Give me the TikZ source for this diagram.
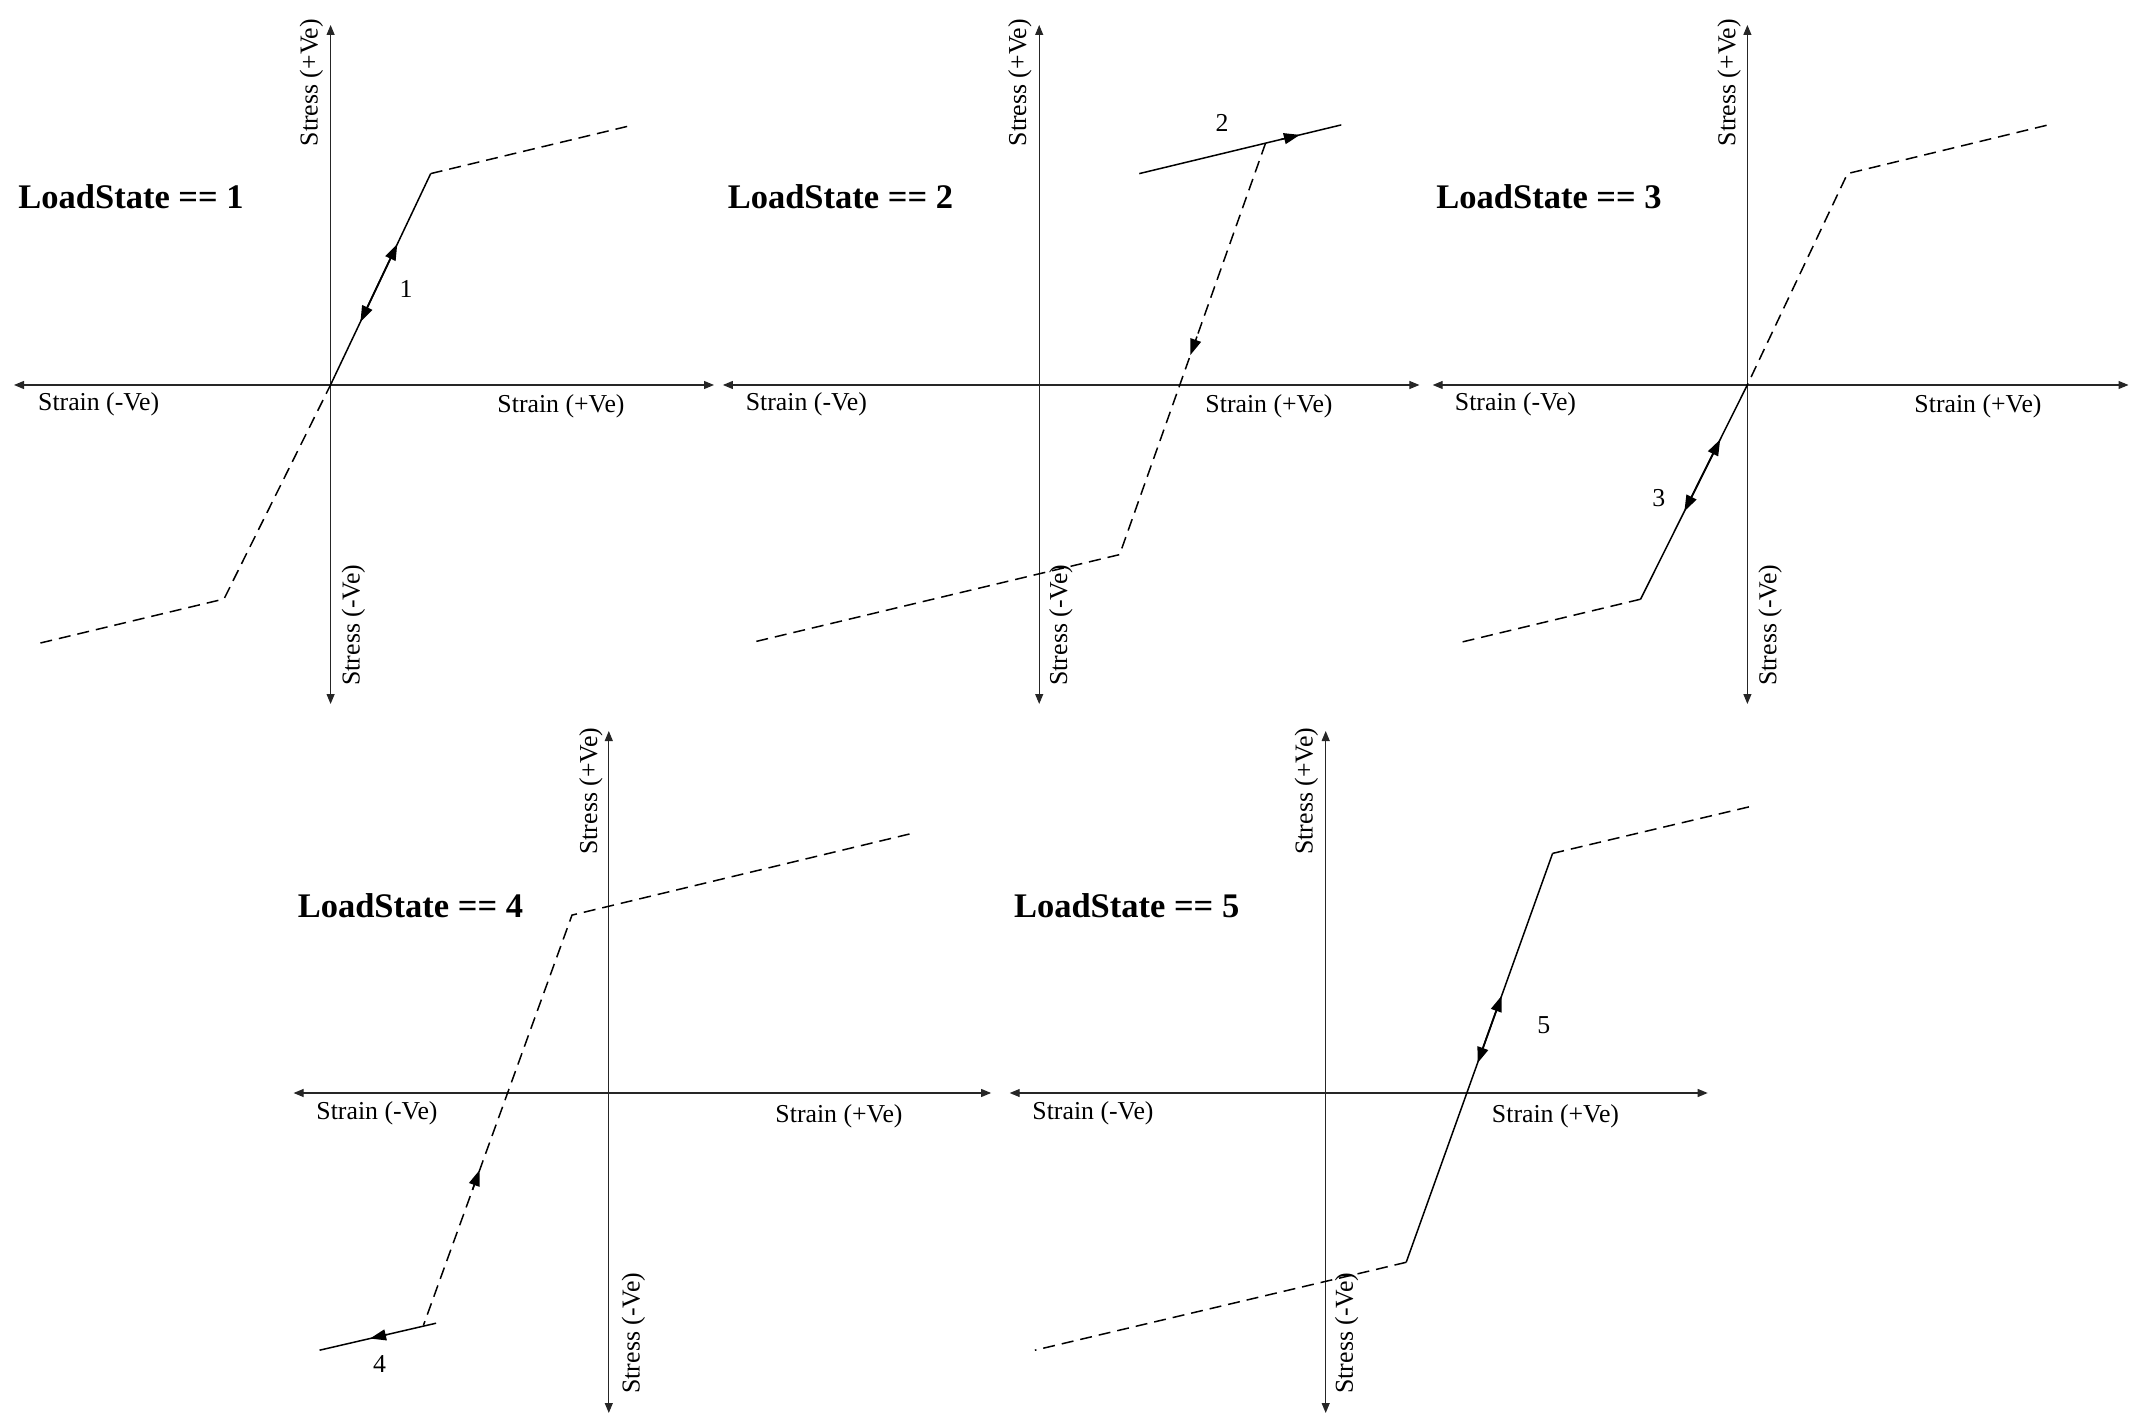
\documentclass[tikz,border=0pt]{standalone}
\usepackage{fontspec}
\setmainfont{Liberation Serif}
\usetikzlibrary{arrows.meta,calc}
\begin{document}
\begin{tikzpicture}[x=0.5pt,y=-0.5pt,
 axis/.style={line width=0.55pt,black!85,{Triangle[length=5pt,width=4pt]}-{Triangle[length=5pt,width=4pt]}},
 curve/.style={line width=0.75pt},
 dashcurve/.style={line width=0.75pt,dash pattern=on 6pt off 3.5pt},
 midtip/.style={line width=0.75pt,solid,-{Triangle[length=8pt,width=5.5pt]}},
 bothtip/.style={line width=0.9pt,{Triangle[length=8pt,width=5.5pt]}-{Triangle[length=8pt,width=5.5pt]}},
 lbl/.style={font=\fontsize{12.9pt}{15pt}\selectfont,inner sep=0pt},
 vlbl/.style={lbl,rotate=90},
 paneltitle/.style={font=\fontsize{17.25pt}{20pt}\selectfont\bfseries,inner sep=0pt,anchor=west}]
\useasboundingbox (0,0) rectangle (2133,1417);

% ================= Panel 1 =================
\coordinate (O1) at (330.6,384.8);
\coordinate (T1) at (330.6,25);  \coordinate (B1) at (330.6,704);
\coordinate (W1) at (14,385);    \coordinate (E1) at (714,385);
\coordinate (U1) at (430.7,173.6); \coordinate (UE1) at (629,126);
\coordinate (L1) at (224,599);     \coordinate (LE1) at (40.4,643);
\draw[axis] (T1) -- (B1);
\draw[axis] (W1) -- (E1);
\draw[dashcurve] (LE1) -- (L1) -- (O1);
\draw[curve] (O1) -- (U1);
\draw[dashcurve] (U1) -- (UE1);
\draw[bothtip] ($(O1)!0.298!(U1)$) -- ($(O1)!0.666!(U1)$);
\node[lbl] (n1) at (406,289) {1};
\node[paneltitle] (t1) at (18,197) {LoadState == 1};
\node[vlbl] (sp1) at (311.5,82.6) {Stress (+Ve)};
\node[vlbl] (sn1) at (353.5,625) {Stress (-Ve)};
\node[lbl] (en1) at (98.7,404) {Strain (-Ve)};
\node[lbl] (ep1) at (561,406) {Strain (+Ve)};

% ================= Panel 2 =================
\coordinate (O2) at (1039.2,384.8);
\coordinate (T2) at (1039.2,25);  \coordinate (B2) at (1039.2,704);
\coordinate (W2) at (722.9,385);  \coordinate (E2) at (1419.4,385);
\coordinate (A2) at (1139.3,173.6); \coordinate (AE2) at (1341.3,124.9);
\coordinate (R2) at ($(A2)!0.625!(AE2)$);
\coordinate (L2) at (1119.6,554.6); \coordinate (LE2) at (750.4,642.8);
\draw[axis] (T2) -- (B2);
\draw[axis] (W2) -- (E2);
\draw[curve] (A2) -- (AE2);
\draw[dashcurve] (R2) -- (L2) -- (LE2);
\draw[midtip] ($(A2)!0.70!(AE2)$) -- ($(A2)!0.795!(AE2)$);
\draw[midtip] ($(R2)!0.47!(L2)$) -- ($(R2)!0.515!(L2)$);
\node[lbl] (n2) at (1222,123) {2};
\node[paneltitle] (t2) at (727.4,197) {LoadState == 2};
\node[vlbl] (sp2) at (1020,82.6) {Stress (+Ve)};
\node[vlbl] (sn2) at (1061,625) {Stress (-Ve)};
\node[lbl] (en2) at (806.4,404) {Strain (-Ve)};
\node[lbl] (ep2) at (1269,406) {Strain (+Ve)};

% ================= Panel 3 =================
\coordinate (O3) at (1747.4,384.8);
\coordinate (T3) at (1747.4,25);  \coordinate (B3) at (1747.4,704);
\coordinate (W3) at (1432.7,385); \coordinate (E3) at (2128.5,385);
\coordinate (U3) at (1847.5,173.6); \coordinate (UE3) at (2046.6,125.3);
\coordinate (L3) at (1640.6,599.2); \coordinate (LE3) at (1458.7,642.8);
\draw[axis] (T3) -- (B3);
\draw[axis] (W3) -- (E3);
\draw[dashcurve] (UE3) -- (U3) -- (O3);
\draw[curve] (O3) -- (L3);
\draw[dashcurve] (L3) -- (LE3);
\draw[bothtip] ($(O3)!0.255!(L3)$) -- ($(O3)!0.59!(L3)$);
\node[lbl] (n3) at (1658.7,498) {3};
\node[paneltitle] (t3) at (1436,197) {LoadState == 3};
\node[vlbl] (sp3) at (1729.2,82.6) {Stress (+Ve)};
\node[vlbl] (sn3) at (1770.2,625) {Stress (-Ve)};
\node[lbl] (en3) at (1515.5,404) {Strain (-Ve)};
\node[lbl] (ep3) at (1978,406) {Strain (+Ve)};

% ================= Panel 4 =================
\coordinate (O4) at (608.8,1093);
\coordinate (T4) at (608.8,731);  \coordinate (B4) at (608.8,1413);
\coordinate (W4) at (293.6,1093); \coordinate (E4) at (991.1,1093);
\coordinate (U4) at (572,915.1);  \coordinate (UE4) at (909.5,834);
\coordinate (D4) at (423.4,1325.4);
\coordinate (S4) at (436.1,1323.2); \coordinate (SE4) at (319.6,1350.2);
\draw[axis] (T4) -- (B4);
\draw[axis] (W4) -- (E4);
\draw[dashcurve] (UE4) -- (U4) -- (D4);
\draw[curve] (S4) -- (SE4);
\draw[midtip] ($(D4)!0.33!(U4)$) -- ($(D4)!0.379!(U4)$);
\draw[midtip] ($(S4)!0.42!(SE4)$) -- ($(S4)!0.567!(SE4)$);
\node[lbl] (n4) at (379.5,1363.7) {4};
\node[paneltitle] (t4) at (297.4,906) {LoadState == 4};
\node[vlbl] (sp4) at (590.9,791) {Stress (+Ve)};
\node[vlbl] (sn4) at (633.4,1333) {Stress (-Ve)};
\node[lbl] (en4) at (377,1113.5) {Strain (-Ve)};
\node[lbl] (ep4) at (839,1115.8) {Strain (+Ve)};

% ================= Panel 5 =================
\coordinate (O5) at (1325.7,1093);
\coordinate (T5) at (1325.7,731);  \coordinate (B5) at (1325.7,1413);
\coordinate (W5) at (1009.7,1093); \coordinate (E5) at (1707.7,1093);
\coordinate (U5) at (1552.6,853.4); \coordinate (UE5) at (1748.9,806.9);
\coordinate (L5) at (1406.2,1262.3); \coordinate (LE5) at (1034.9,1350.2);
\draw[axis] (T5) -- (B5);
\draw[axis] (W5) -- (E5);
\draw[dashcurve] (UE5) -- (U5);
\draw[curve] (U5) -- (L5);
\draw[dashcurve] (L5) -- (LE5);
\draw[bothtip] ($(U5)!0.513!(L5)$) -- ($(U5)!0.348!(L5)$);
\node[lbl] (n5) at (1543.9,1025.6) {5};
\node[paneltitle] (t5) at (1013.6,906) {LoadState == 5};
\node[vlbl] (sp5) at (1306.4,791) {Stress (+Ve)};
\node[vlbl] (sn5) at (1346.6,1333) {Stress (-Ve)};
\node[lbl] (en5) at (1093,1113.5) {Strain (-Ve)};
\node[lbl] (ep5) at (1555.5,1115.8) {Strain (+Ve)};
\end{tikzpicture}
\end{document}
